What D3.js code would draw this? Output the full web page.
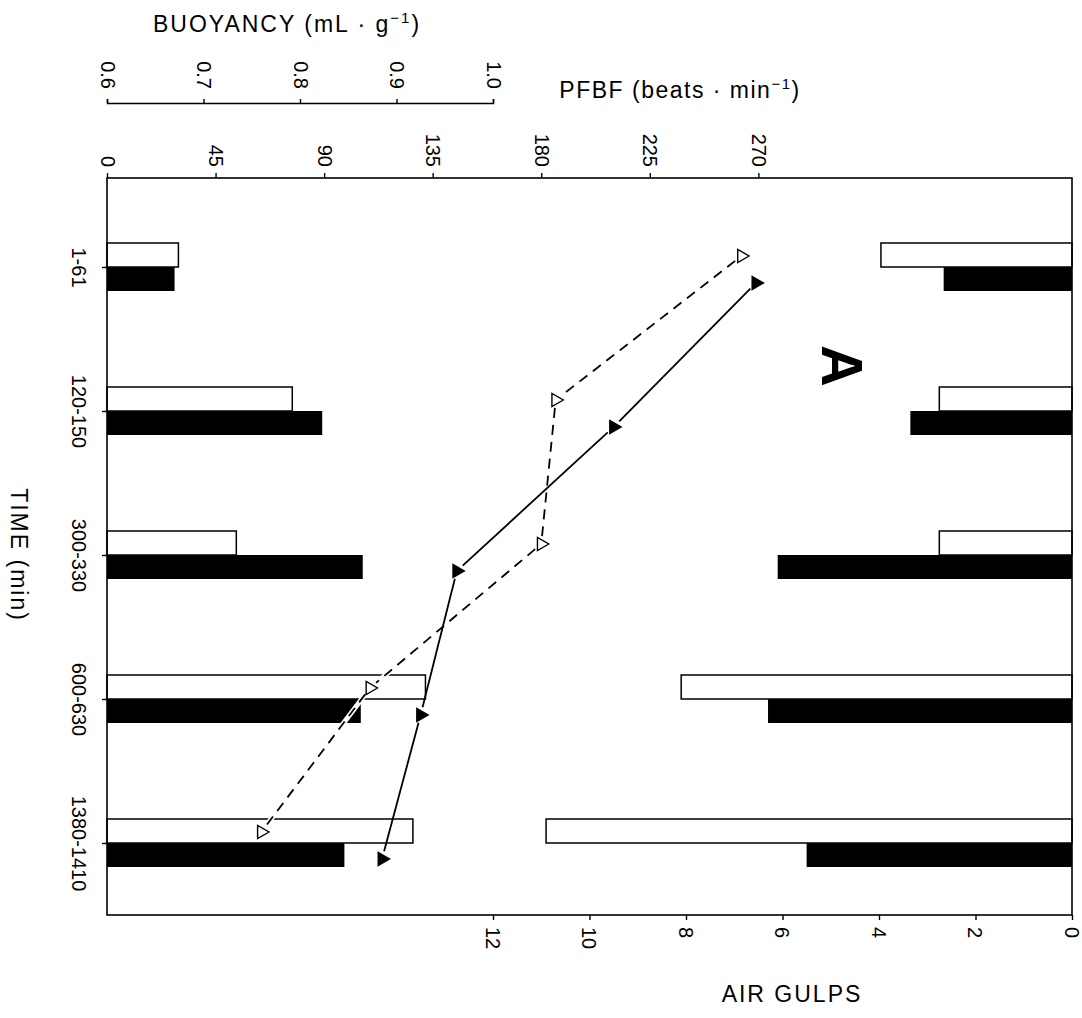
<!DOCTYPE html>
<html>
<head>
<meta charset="utf-8">
<script src="https://cdn.jsdelivr.net/npm/d3@7"></script>
<style>
  body { margin: 0; background: #fff; }
  text { font-family: "Liberation Sans", Arial, sans-serif; fill: #000; }
  .title { font-size: 23px; letter-spacing: 2px; }
</style>
</head>
<body>
<script>
var times = ['1-61','120-150','300-330','600-630','1380-1410'];
// left bars: buoyancy (mL/g)
var buoyOpen = [0.674, 0.792, 0.734, 0.930, 0.917];
var buoyFilled = [0.670, 0.823, 0.865, 0.863, 0.846];
// right bars: air gulps
var gulpsOpen = [3.96, 2.75, 2.75, 8.1, 10.9];
var gulpsFilled = [2.66, 3.35, 6.1, 6.3, 5.5];
// lines: PFBF (beats/min)
var pfbfOpen = [263, 186, 180, 109, 64];
var pfbfFilled = [269, 210, 145, 130, 114];

var pfbfTicks = [0,45,90,135,180,225,270];
var buoyTicks = [0.6,0.7,0.8,0.9,1.0];
var gulpTicks = [0,2,4,6,8,10,12];

var plotL = 107, plotR = 1072, plotT = 178, plotB = 915;
var barH = 24;

var svg = d3.select("body").append("svg")
  .attr("width", 1082).attr("height", 1018);

var xPF = d3.scaleLinear().domain([0,400]).range([plotL,plotR]);
var xB = d3.scaleLinear().domain([0.6,1.6]).range([plotL,plotR]);
var xBaxis = d3.scaleLinear().domain([0.6,1.0]).range([plotL,xB(1.0)]);
var xG = d3.scaleLinear().domain([20,0]).range([plotL,plotR]);
var y = d3.scalePoint().domain(times).range([267,843]);

// left bars
svg.selectAll("rect.bo")
  .data(buoyOpen)
  .enter().append("rect")
    .attr("class","bo")
    .attr("x",plotL)
    .attr("y",function(d,i){ return y(times[i])-barH; })
    .attr("width",function(d){ return xB(d)-plotL; })
    .attr("height",barH)
    .attr("fill","#fff").attr("stroke","#000").attr("stroke-width",1.5);
svg.selectAll("rect.bf")
  .data(buoyFilled)
  .enter().append("rect")
    .attr("class","bf")
    .attr("x",plotL)
    .attr("y",function(d,i){ return y(times[i]); })
    .attr("width",function(d){ return xB(d)-plotL; })
    .attr("height",barH)
    .attr("fill","#000");

// right bars
svg.selectAll("rect.go")
  .data(gulpsOpen)
  .enter().append("rect")
    .attr("class","go")
    .attr("x",function(d){ return xG(d); })
    .attr("y",function(d,i){ return y(times[i])-barH; })
    .attr("width",function(d){ return plotR-xG(d); })
    .attr("height",barH)
    .attr("fill","#fff").attr("stroke","#000").attr("stroke-width",1.5);
svg.selectAll("rect.gf")
  .data(gulpsFilled)
  .enter().append("rect")
    .attr("class","gf")
    .attr("x",function(d){ return xG(d); })
    .attr("y",function(d,i){ return y(times[i]); })
    .attr("width",function(d){ return plotR-xG(d); })
    .attr("height",barH)
    .attr("fill","#000");

// frame
svg.append("rect")
  .attr("x",plotL).attr("y",plotT)
  .attr("width",plotR-plotL).attr("height",plotB-plotT)
  .attr("fill","none").attr("stroke","#000").attr("stroke-width",1.6);

// pfbf lines, segments stop short of the markers
function short(s, end) {
  var dx = s[1][0]-s[0][0], dy = s[1][1]-s[0][1];
  var len = Math.sqrt(dx*dx+dy*dy), g = 8/len;
  return end ? [s[1][0]-dx*g, s[1][1]-dy*g] : [s[0][0]+dx*g, s[0][1]+dy*g];
}
function drawSeries(vals, dy, dashed, filled) {
  var pts = vals.map(function(v,i){ return [xPF(v), y(times[i])+dy]; });
  var segs = d3.pairs(pts);
  var passes = dashed ? [["#fff",5,null],["#000",1.8,"10,7"]] : [["#000",1.8,null]];
  passes.forEach(function(p){
    svg.selectAll(null)
      .data(segs)
      .enter().append("line")
        .attr("x1",function(s){ return short(s,0)[0]; })
        .attr("y1",function(s){ return short(s,0)[1]; })
        .attr("x2",function(s){ return short(s,1)[0]; })
        .attr("y2",function(s){ return short(s,1)[1]; })
        .attr("stroke",p[0]).attr("stroke-width",p[1])
        .attr("stroke-dasharray",p[2]);
  });
  svg.selectAll(null)
    .data(pts)
    .enter().append("path")
      .attr("d", d3.symbol(d3.symbolTriangle).size(75))
      .attr("transform",function(p){ return "translate("+p[0]+","+p[1]+") rotate(90)"; })
      .attr("fill", filled ? "#000" : "#fff")
      .attr("stroke","#000").attr("stroke-width",1.4);
}
drawSeries(pfbfOpen, -11, true, false);
drawSeries(pfbfFilled, 16, false, true);

function styleTicks(g, tf, anchor) {
  g.selectAll("text")
    .attr("x",0).attr("y",0).attr("dy","0.35em")
    .attr("transform",tf)
    .attr("text-anchor",anchor)
    .style("font-size","20px").style("font-family","Liberation Sans, Arial, sans-serif");
  g.selectAll("line").attr("stroke-width",1.4);
}

// top pfbf axis
var gPF = svg.append("g")
  .attr("transform","translate(0,"+plotT+")")
  .call(d3.axisTop(xPF).tickValues(pfbfTicks).tickSize(5).tickSizeOuter(0));
gPF.select(".domain").remove();
styleTicks(gPF, "translate(0,-11) rotate(90)", "end");

// buoyancy axis
var gB = svg.append("g")
  .attr("transform","translate(0,103)")
  .call(d3.axisTop(xBaxis).tickValues(buoyTicks).tickFormat(d3.format(".1f")).tickSize(4).tickSizeOuter(4));
gB.select(".domain").attr("stroke-width",1.5);
styleTicks(gB, "translate(0,-14) rotate(90)", "end");

// bottom gulps axis
var gG = svg.append("g")
  .attr("transform","translate(0,"+plotB+")")
  .call(d3.axisBottom(xG).tickValues(gulpTicks).tickSize(5).tickSizeOuter(0));
gG.select(".domain").remove();
styleTicks(gG, "translate(-1,12) rotate(90)", "start");

// left time axis
var gT = svg.append("g")
  .attr("transform","translate("+plotL+",0)")
  .call(d3.axisLeft(y).tickSize(5).tickSizeOuter(0));
gT.select(".domain").remove();
styleTicks(gT, "translate(-28,0) rotate(90)", "middle");

// titles
var t1 = svg.append("text").attr("class","title")
  .attr("x",287).attr("y",32).attr("text-anchor","middle");
t1.append("tspan").text("BUOYANCY (mL \u00b7 g");
t1.append("tspan").attr("dy",-9).style("font-size","15px").text("\u22121");
t1.append("tspan").attr("dy",9).text(")");

var t2 = svg.append("text").attr("class","title")
  .attr("x",680).attr("y",98).attr("text-anchor","middle")
  .style("letter-spacing","1.5px");
t2.append("tspan").text("PFBF (beats \u00b7 min");
t2.append("tspan").attr("dy",-9).style("font-size","15px").text("\u22121");
t2.append("tspan").attr("dy",9).text(")");

svg.append("text").attr("class","title")
  .attr("transform","translate(19,555) rotate(90)")
  .attr("text-anchor","middle").attr("dy","0.35em")
  .text("TIME (min)");

svg.append("text").attr("class","title")
  .attr("x",792).attr("y",1002).attr("text-anchor","middle")
  .text("AIR GULPS");

svg.append("text")
  .attr("transform","translate(842,366) rotate(90)")
  .attr("text-anchor","middle").attr("dy","0.35em")
  .style("font-size","58px").style("font-weight","bold")
  .text("A");
</script>
</body>
</html>
